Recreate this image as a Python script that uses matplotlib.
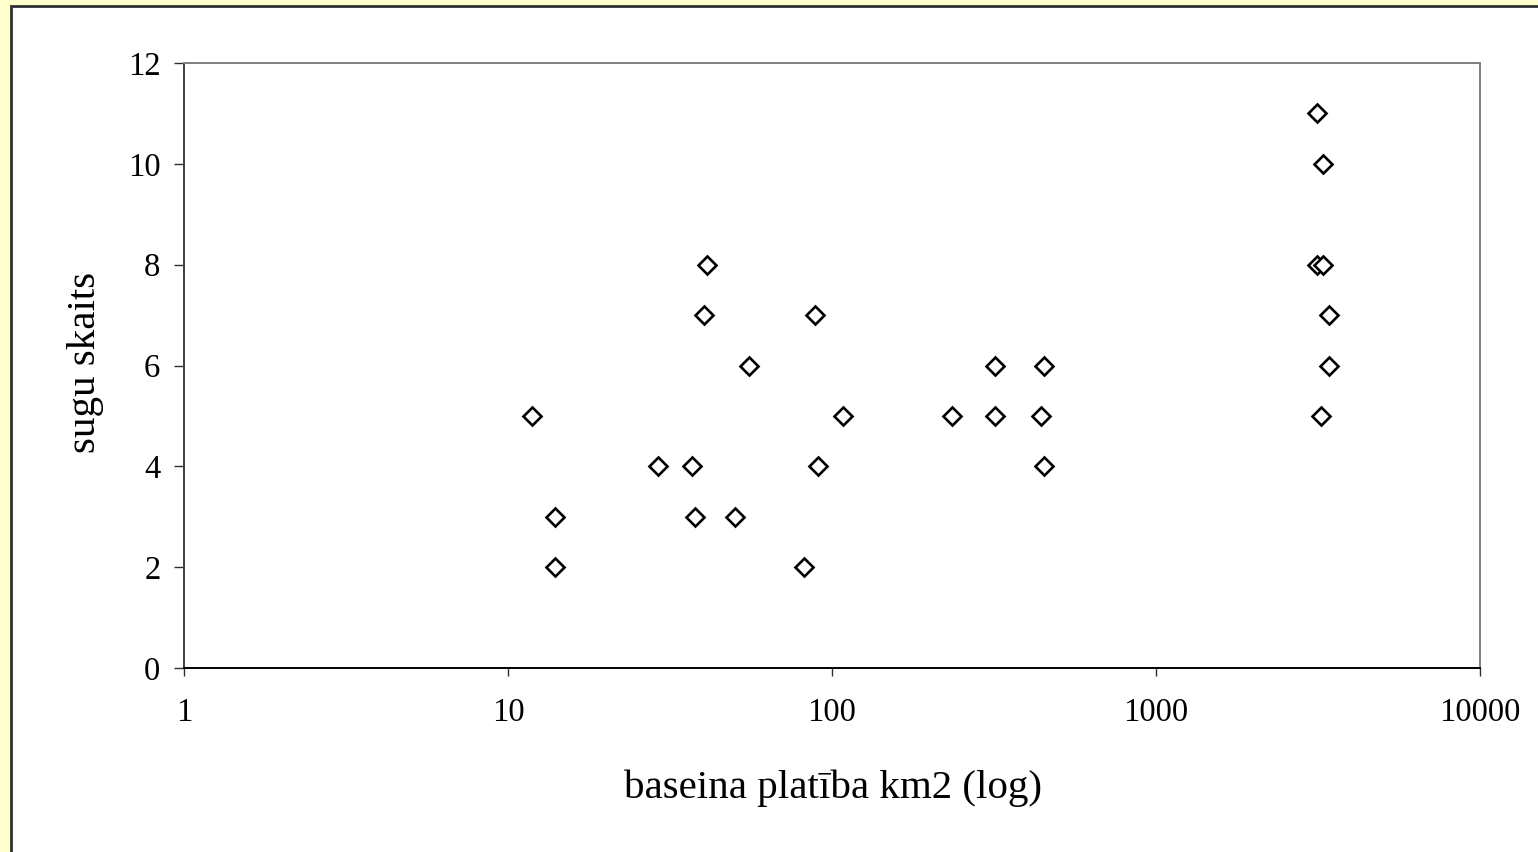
import matplotlib
matplotlib.use("Agg")
import matplotlib.pyplot as plt
from matplotlib.patches import Rectangle

plt.rcParams['font.family'] = ['Liberation Serif', 'DejaVu Serif']

# Data
area_km2 = [11.9, 14.0, 14.0, 29.1, 37.0, 37.8, 40.3, 41.0, 50.3, 55.6,
            81.8, 88.8, 90.5, 108.3, 235, 318, 318, 441, 450, 450,
            3147, 3269, 3133, 3283, 3420, 3420, 3223]
species = [5, 3, 2, 4, 4, 3, 7, 8, 3, 6,
           2, 7, 4, 5, 5, 6, 5, 5, 6, 4,
           11, 10, 8, 8, 7, 6, 5]
x_ticks = [1, 10, 100, 1000, 10000]
x_tick_labels = ['1', '10', '100', '1000', '10000']
y_ticks = [0, 2, 4, 6, 8, 10, 12]

W, H = 1538, 852
fig = plt.figure(figsize=(W / 100, H / 100), dpi=100)
fig.patch.set_facecolor('#FFFFCC')
# white chart area with dark frame (left/top visible)
frame = Rectangle((10.5 / W, -0.01), 1.1, 1 - 5.5 / H + 0.01,
                  transform=fig.transFigure, facecolor='white',
                  edgecolor='#303030', linewidth=2.0, zorder=-10)
fig.patches.append(frame)

ax = fig.add_axes([184 / W, 1 - 668 / H, (1480 - 184) / W, (668 - 63) / H])
ax.set_zorder(5)
ax.set_facecolor('white')
ax.set_xscale('log')
ax.set_xlim(1, 10000)
ax.set_ylim(0, 12)

ax.plot(area_km2, species, linestyle='none', marker='D', markersize=9.6,
        markerfacecolor='white', markeredgecolor='black', markeredgewidth=1.9,
        clip_on=False)

ax.set_xticks(x_ticks)
ax.set_xticklabels(x_tick_labels)
ax.xaxis.set_minor_locator(matplotlib.ticker.NullLocator())
ax.set_yticks(y_ticks)

ax.tick_params(axis='x', direction='out', length=6, width=1.0, color='#303030',
               labelsize=23.5, pad=15)
ax.tick_params(axis='y', direction='out', length=7, width=1.0, color='#303030',
               labelsize=23.5, pad=10)

for side in ['top', 'right']:
    ax.spines[side].set_color('#808080')
    ax.spines[side].set_linewidth(1.4)
ax.spines['left'].set_color('#404040')
ax.spines['left'].set_linewidth(1.4)
ax.spines['bottom'].set_color('black')
ax.spines['bottom'].set_linewidth(1.4)

fig.text(833 / W, 1 - 788 / H, 'baseina platība km2 (log)', ha='center', va='center',
         fontsize=29.5, zorder=6)
fig.text(85 / W, 1 - 362 / H, 'sugu skaits', ha='center', va='center',
         rotation=90, fontsize=29.5, zorder=6)

fig.savefig('out.png', dpi=100, facecolor=fig.get_facecolor())
